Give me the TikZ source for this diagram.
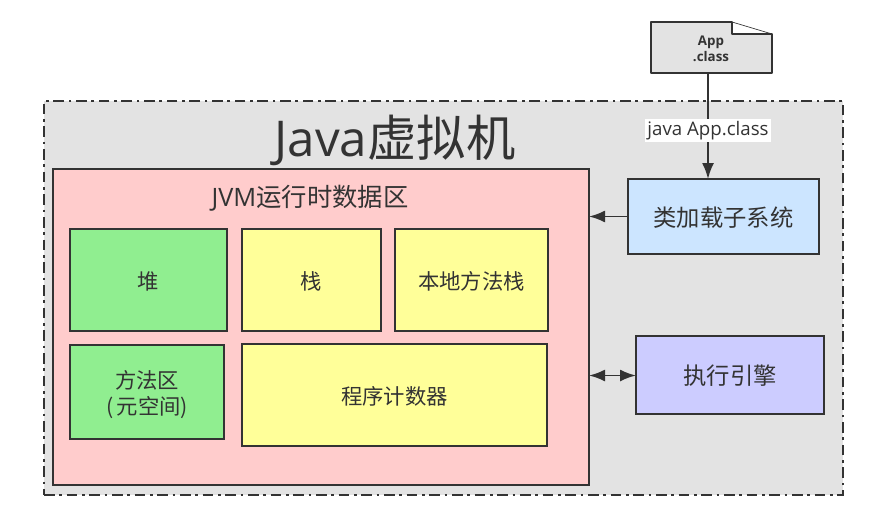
\documentclass[tikz,border=0pt]{standalone}
\usepackage{fontspec}
\setmainfont{Noto Sans CJK SC}
\newfontfamily\latinfont{Open Sans}
\usepackage{xcolor}
\usetikzlibrary{arrows.meta,positioning,calc}

\definecolor{inkgray}{HTML}{333333}
\definecolor{vmgray}{HTML}{E3E3E3}
\definecolor{areapink}{HTML}{FFCCCC}
\definecolor{sharedgreen}{HTML}{90EE90}
\definecolor{privateyellow}{HTML}{FFFF99}
\definecolor{loaderblue}{HTML}{CCE5FF}
\definecolor{enginepurple}{HTML}{CCCCFF}

\newcommand\lowered[1]{\raisebox{-3pt}[\height][\depth]{\begin{tabular}{@{}c@{}}#1\end{tabular}}}

\tikzset{
  box/.style={draw=inkgray,line width=1.6pt,text=inkgray,outer sep=0pt,inner sep=0pt,font=\fontsize{16}{19}\selectfont},
  conn/.style={draw=inkgray,line width=1.4pt,-{Latex[length=12pt,width=9pt]}},
}

\begin{document}
\begin{tikzpicture}[x=0.75pt,y=-0.75pt]
  \useasboundingbox (0,0) rectangle (877,521);
  % outer frame
  \node (jvm) [draw=inkgray,fill=vmgray,line width=1.6pt,dash pattern=on 8pt off 3.5pt on 2pt off 3.5pt,outer sep=0pt,
    minimum width=599.25pt,minimum height=295.5pt,anchor=north west] at (44,101) {};
  \node (title) [text=inkgray,font=\fontsize{37}{40}\selectfont,inner sep=0pt] at (395,140) {{\latinfont Java}虚拟机};
  % data area
  \node (area) [box,fill=areapink,minimum width=402pt,minimum height=237pt,anchor=north west] at (53,169) {};
  \node (areatitle) [text=inkgray,font=\fontsize{19}{22}\selectfont,inner sep=0pt] at (310,198) {{\latinfont JVM}运行时数据区};
  \node (heap) [box,fill=sharedgreen,minimum width=117.75pt,minimum height=76.5pt,anchor=north west] at (70,229) {\lowered{堆}};
  \node (stack) [box,fill=privateyellow,minimum width=104.25pt,minimum height=76.5pt,right=11.25pt of heap] {\lowered{栈}};
  \node (native) [box,fill=privateyellow,minimum width=114.75pt,minimum height=76.5pt,right=10.5pt of stack] {\lowered{本地方法栈}};
  \node (method) [box,fill=sharedgreen,minimum width=115.5pt,minimum height=70.5pt,anchor=north west] at (70,345) {\lowered{方法区\\({\,}元空间)}};
  \node (counter) [box,fill=privateyellow,minimum width=228.75pt,minimum height=76.5pt,anchor=north west] at (242,344) {\lowered{程序计数器}};
  % right side
  \node (loader) [box,fill=loaderblue,minimum width=143.25pt,minimum height=56.25pt,anchor=north west,font=\fontsize{17.5}{21}\selectfont] at (628,179) {\lowered{类加载子系统}};
  \node (engine) [box,fill=enginepurple,minimum width=141pt,minimum height=58.5pt,anchor=north west,font=\fontsize{17.5}{21}\selectfont] at (636,336) {\lowered{执行引擎}};
  % class file
  \node (app) [minimum width=90.75pt,minimum height=38.25pt,anchor=north west,outer sep=0pt,inner sep=0pt] at (651,22) {};
  \draw[draw=inkgray,fill=vmgray,line width=1.3pt,line join=bevel]
    (app.north west) -- ($(app.north east)+(-40,0)$) -- ($(app.north east)+(-40,12)$) -- ($(app.north east)+(0,12)$) -- (app.south east) -- (app.south west) -- cycle;
  \draw[draw=inkgray,line width=0.5pt]
    ($(app.north east)+(-40,0)$) -- ($(app.north east)+(0,12)$);
  \node (appname) [text=inkgray,align=center,font=\latinfont\bfseries\fontsize{10}{12}\selectfont,inner sep=0pt] at (711,49) {App\\.class};
  % connectors
  \coordinate (loaderin) at (708,179);
  \draw[conn] (loaderin |- app.south) -- node (cmd) [fill=white,text=inkgray,pos=0.54,inner sep=1.5pt,font=\latinfont\fontsize{14}{16}\selectfont] {java App.class} (loaderin);
  \draw[conn] (loader.west) -- (loader.west -| area.east);
  \draw[conn,{Latex[length=12pt,width=9pt]}-{Latex[length=12pt,width=9pt]}] (engine.west |- 0,375.5) -- (area.east |- 0,375.5);
\end{tikzpicture}
\end{document}
